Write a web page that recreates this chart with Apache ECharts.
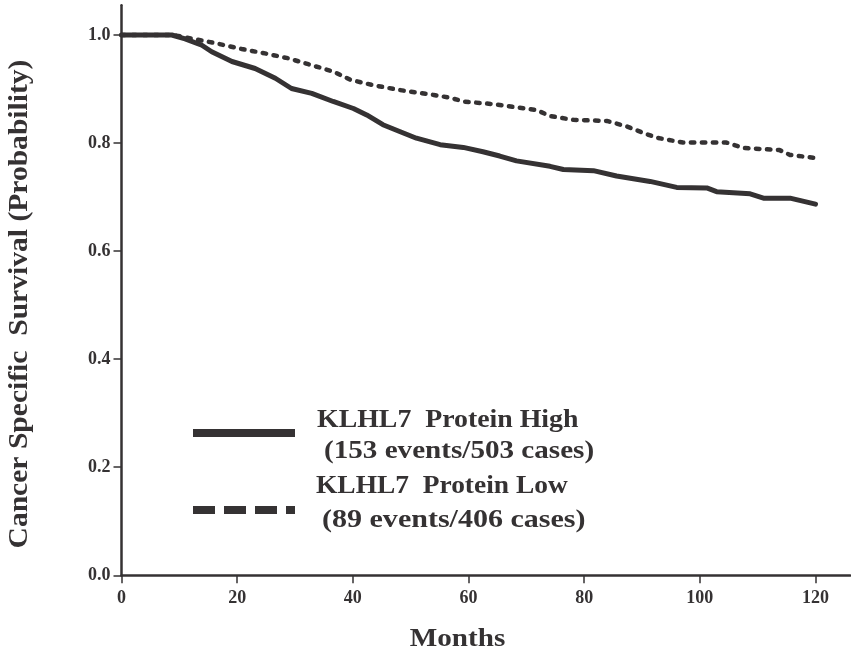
<!DOCTYPE html>
<html>
<head>
<meta charset="utf-8">
<script src="https://cdn.jsdelivr.net/npm/echarts@6/dist/echarts.min.js"></script>
<style>
html,body{margin:0;padding:0;background:#fff;}
#chart{width:851px;height:655px;}
</style>
</head>
<body>
<div id="chart"></div>
<script>
// Kaplan-Meier curves: [month, survival probability]
var highSeriesName = 'KLHL7 Protein High';
var lowSeriesName = 'KLHL7 Protein Low';
var highSubLabel = '(153 events/503 cases)';
var lowSubLabel = '(89 events/406 cases)';

var highData = [
  [0,1.0],[8.7,1.0],[11.0,0.993],[13.9,0.981],[15.6,0.969],[19.1,0.951],[23.1,0.938],
  [26.6,0.920],[29.4,0.901],[32.9,0.892],[36.6,0.877],[40.1,0.864],[42.4,0.852],
  [45.2,0.834],[48.2,0.821],[51.0,0.809],[55.1,0.797],[59.1,0.792],[62.5,0.784],
  [65.4,0.776],[68.3,0.767],[74.1,0.757],[76.4,0.751],[81.6,0.749],[85.6,0.739],
  [91.4,0.729],[96.0,0.718],[101.2,0.717],[102.9,0.710],[108.7,0.706],[111.0,0.698],
  [115.6,0.698],[120,0.687]
];
var lowData = [
  [0,1.0],[9.0,1.0],[10.4,0.997],[16.2,0.985],[20.8,0.974],[24.8,0.966],[28.8,0.957],
  [32.3,0.946],[36.7,0.932],[39.6,0.917],[43.6,0.907],[48.2,0.898],[54.0,0.889],
  [56.8,0.884],[59.1,0.877],[64.3,0.872],[68.3,0.866],[71.8,0.861],[74.1,0.850],
  [78.1,0.843],[83.9,0.841],[87.3,0.831],[90.2,0.819],[92.5,0.810],[97.1,0.801],
  [104.6,0.801],[107.5,0.791],[113.8,0.787],[115.6,0.778],[119.6,0.773]
];
var xTicks = [0,20,40,60,80,100,120];
var yTicks = [0,0.2,0.4,0.6,0.8,1.0];
var xTitle = 'Months';
var yTitle = 'Cancer Specific  Survival (Probability)';

var ink = '#353233';
var font = '"Liberation Serif", "Times New Roman", serif';

var chart = echarts.init(document.getElementById('chart'), null, {renderer:'canvas'});
chart.setOption({
  animation: false,
  backgroundColor: '#fff',
  grid: {left: 121.5, right: 0.8, top: 5.3, bottom: 79.7, containLabel: false},
  xAxis: {
    type: 'value', min: 0, max: 126, interval: 20,
    axisLine: {show: true, lineStyle: {color: ink, width: 2.5}},
    axisTick: {show: true, length: 8, lineStyle: {color: ink, width: 1.5}, customValues: xTicks},
    axisLabel: {color: ink, fontFamily: font, fontWeight: 'bold', fontSize: 18, margin: 14,
      customValues: xTicks, formatter: function(v){return String(v);}},
    splitLine: {show: false}
  },
  yAxis: {
    type: 'value', min: 0, max: 1.055, interval: 0.2,
    axisLine: {show: true, lineStyle: {color: ink, width: 2.5}},
    axisTick: {show: true, length: 8, lineStyle: {color: ink, width: 1.5}, customValues: yTicks},
    axisLabel: {color: ink, fontFamily: font, fontWeight: 'bold', fontSize: 18, margin: 11,
      customValues: yTicks, formatter: function(v){return v.toFixed(1);}},
    splitLine: {show: false}
  },
  series: [
    {name: highSeriesName, type: 'line', data: highData, showSymbol: false, symbol: 'none',
     lineStyle: {color: ink, width: 5, cap: 'round', join: 'round'}, z: 3},
    {name: lowSeriesName, type: 'line', data: lowData, showSymbol: false, symbol: 'none',
     lineStyle: {color: ink, width: 4.5, type: [3.5, 7.5], cap: 'round', join: 'round'}, z: 3}
  ],
  graphic: [
    {type: 'line', shape: {x1: 193, y1: 433, x2: 295, y2: 433}, style: {stroke: ink, lineWidth: 8}},
    {type: 'line', shape: {x1: 193, y1: 510, x2: 295, y2: 510}, style: {stroke: ink, lineWidth: 8, lineDash: [22, 9]}},
    {type: 'text', x: 317, y: 433, scaleX: 1.07, style: {text: highSeriesName.replace(' ', '  '), fill: ink, font: 'bold 26px ' + font, verticalAlign: 'bottom'}},
    {type: 'text', x: 324, y: 464, scaleX: 1.12, style: {text: highSubLabel, fill: ink, font: 'bold 26px ' + font, verticalAlign: 'bottom'}},
    {type: 'text', x: 316, y: 499, scaleX: 1.055, style: {text: lowSeriesName.replace(' ', '  '), fill: ink, font: 'bold 26px ' + font, verticalAlign: 'bottom'}},
    {type: 'text', x: 322, y: 533, scaleX: 1.155, style: {text: lowSubLabel, fill: ink, font: 'bold 26px ' + font, verticalAlign: 'bottom'}},
    {type: 'text', x: 457.5, y: 639, scaleX: 1.12, style: {text: xTitle, fill: ink, font: 'bold 26px ' + font, align: 'center', verticalAlign: 'middle'}},
    {type: 'text', x: 20, y: 304, rotation: Math.PI/2, scaleX: 1.056, style: {text: yTitle, fill: ink, font: 'bold 28px ' + font, align: 'center', verticalAlign: 'middle'}}
  ]
});
</script>
</body>
</html>
